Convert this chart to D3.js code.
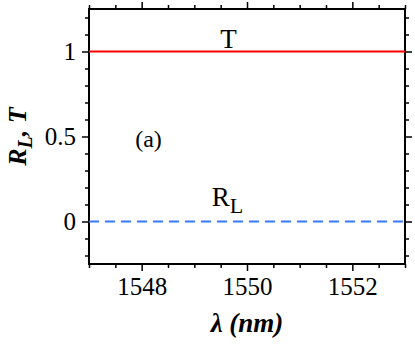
<!DOCTYPE html>
<html>
<head>
<meta charset="utf-8">
<script src="https://cdn.jsdelivr.net/npm/d3@7"></script>
<style>
  body { margin: 0; background: #fff; }
</style>
</head>
<body>
<svg id="chart" width="415" height="344"></svg>
<script>
// --- datos del gráfico ---
const wavelengths = [1547, 1548, 1549, 1550, 1551, 1552, 1553];
const transmission = [1, 1, 1, 1, 1, 1, 1];
const reflectionL = [0, 0, 0, 0, 0, 0, 0];
const xTickValues = [1548, 1550, 1552];
const yTickValues = [0, 0.5, 1];
const yTickLabels = ["0", "0.5", "1"];

const FONT = '"Liberation Serif"';
const margin = { top: 9, right: 10, bottom: 80, left: 89 };
const width = 415, height = 344;

const svg = d3.select('#chart');

const x = d3.scaleLinear().domain([1547, 1553]).range([margin.left, width - margin.right]);
const y = d3.scaleLinear().domain([-0.25, 1.25]).range([height - margin.bottom, margin.top]);

// ticks menores (cada 0.5 nm y 0.1)
const xMinor = d3.range(1547, 1553.01, 0.5).filter(v => !xTickValues.includes(v));
const yMinor = d3.range(-0.2, 1.21, 0.1).map(v => +v.toFixed(2)).filter(v => !yTickValues.includes(v));

function drawAxis(axisFn, scale, transform, majors, minors, labels) {
    const gMinor = svg.append('g').attr('transform', transform)
        .call(axisFn(scale).tickValues(minors).tickSize(4).tickFormat(''));
    const gMajor = svg.append('g').attr('transform', transform)
        .call(axisFn(scale).tickValues(majors).tickSize(7).tickPadding(6)
            .tickFormat(labels ? (d, i) => labels[i] : ''));
    [gMinor, gMajor].forEach(g => {
        g.select('.domain').remove();
        g.selectAll('line').attr('stroke', '#000').attr('stroke-width', 1.5);
        g.selectAll('text').style('font-family', FONT).style('font-size', '25px').attr('fill', '#000');
    });
    return gMajor;
}

const yBottom = y(-0.25), yTop = y(1.25);
drawAxis(d3.axisBottom, x, `translate(0,${yBottom})`, xTickValues, xMinor, xTickValues.map(String));
drawAxis(d3.axisTop, x, `translate(0,${yTop})`, xTickValues, xMinor, null);
drawAxis(d3.axisLeft, y, `translate(${x(1547)},0)`, yTickValues, yMinor, yTickLabels);
drawAxis(d3.axisRight, y, `translate(${x(1553)},0)`, yTickValues, yMinor, null);

// marco
svg.append('rect')
    .attr('x', x(1547)).attr('y', yTop)
    .attr('width', x(1553) - x(1547)).attr('height', yBottom - yTop)
    .attr('fill', 'none').attr('stroke', '#000').attr('stroke-width', 2);

// curvas
const line = d3.line().x(d => x(d[0])).y(d => y(d[1]));

svg.append('path')
    .datum(wavelengths.map((w, i) => [w, transmission[i]]))
    .attr('d', line).attr('fill', 'none')
    .attr('stroke', '#ff0000').attr('stroke-width', 2.2);

svg.append('path')
    .datum(wavelengths.map((w, i) => [w, reflectionL[i]]))
    .attr('d', line).attr('fill', 'none')
    .attr('stroke', '#3a78ff').attr('stroke-width', 2.2)
    .attr('stroke-dasharray', '10,6');

// anotaciones
function label(xv, yv, size) {
    return svg.append('text').attr('x', x(xv)).attr('y', y(yv))
        .attr('text-anchor', 'middle')
        .style('font-family', FONT).style('font-size', size + 'px');
}

label(1549.65, 1.02, 27).text('T');
label(1548.13, 0.44, 24).text('(a)');

const rl = label(1549.63, 0.09, 27);
rl.append('tspan').text('R');
rl.append('tspan').attr('dy', 7).style('font-size', '22px').text('L');

// títulos de ejes
svg.append('text')
    .attr('x', (x(1547) + x(1553)) / 2).attr('y', 332)
    .attr('text-anchor', 'middle')
    .style('font-family', FONT).style('font-size', '27px')
    .style('font-weight', 'bold').style('font-style', 'italic')
    .text('λ (nm)');

const yl = svg.append('text')
    .attr('transform', `translate(26,${(yTop + yBottom) / 2}) rotate(-90)`)
    .attr('text-anchor', 'middle')
    .style('font-family', FONT).style('font-size', '26px')
    .style('font-weight', 'bold').style('font-style', 'italic');
yl.append('tspan').text('R');
yl.append('tspan').attr('dy', 6).style('font-size', '20px').text('L');
yl.append('tspan').attr('dy', -6).text(', T');
</script>
</body>
</html>
